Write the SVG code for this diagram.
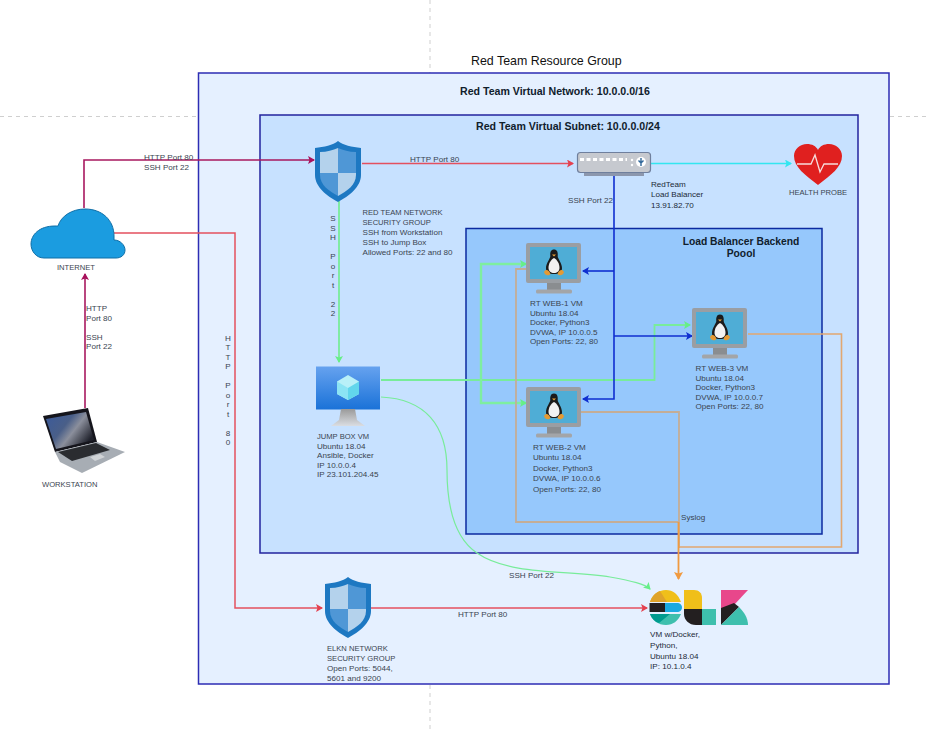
<svg xmlns="http://www.w3.org/2000/svg" width="928" height="729" viewBox="0 0 928 729">
<style>
text{font-family:"Liberation Sans",Arial,sans-serif;font-size:8.1px;fill:#3a4450}
.u{font-size:7.6px}
.t{font-size:12.4px;fill:#111}
.b{font-size:10.6px;font-weight:bold;fill:#10202c}
.b2{font-size:10.3px}
.d{fill:#1c2a38}
.c{fill:none;stroke-linejoin:miter}
.pk{stroke:#a8185f;stroke-width:1.6}
.rd{stroke:#e4505f;stroke-width:1.5}
.gr{stroke:#78ec9a;stroke-width:1.8}
.gt{stroke:#7eeea0;stroke-width:2.4}
.bl{stroke:#0f2fd0;stroke-width:1.6}
.or{stroke:#c4ad96;stroke-width:1.8}
.oo{stroke:#e2a770;stroke-width:1.6}
.grid{stroke:#cfcfcf;stroke-dasharray:4 4;fill:none}
</style>
<defs>
<marker id="mp" markerWidth="8" markerHeight="8" refX="6" refY="4" orient="auto" markerUnits="userSpaceOnUse"><path d="M0 0L7 4L0 8L1.500 4Z" fill="#a8115c"/></marker>
<marker id="mr" markerWidth="8" markerHeight="8" refX="6" refY="4" orient="auto" markerUnits="userSpaceOnUse"><path d="M0 0L7 4L0 8L1.500 4Z" fill="#e4404f"/></marker>
<marker id="mg" markerWidth="8" markerHeight="8" refX="6" refY="4" orient="auto" markerUnits="userSpaceOnUse"><path d="M0 0L7 4L0 8L1.500 4Z" fill="#66ee88"/></marker>
<marker id="mc" markerWidth="8" markerHeight="8" refX="6" refY="4" orient="auto" markerUnits="userSpaceOnUse"><path d="M0 0L7 4L0 8L1.500 4Z" fill="#33e6f0"/></marker>
<marker id="mb" markerWidth="8" markerHeight="8" refX="6" refY="4" orient="auto" markerUnits="userSpaceOnUse"><path d="M0 0L7 4L0 8L1.500 4Z" fill="#0f2fd0"/></marker>
<marker id="mo" markerWidth="9" markerHeight="9" refX="7" refY="4.500" orient="auto" markerUnits="userSpaceOnUse"><path d="M0 0L8 4.500L0 9L1.500 4.500Z" fill="#f09a40"/></marker>
<linearGradient id="jb" x1="0" y1="0" x2="0" y2="1"><stop offset="0" stop-color="#66a2ef"/><stop offset="1" stop-color="#1a72d8"/></linearGradient>
<linearGradient id="js" x1="0" y1="0" x2="0" y2="1"><stop offset="0" stop-color="#9a9a9a"/><stop offset="1" stop-color="#dadde2"/></linearGradient>
<linearGradient id="ls" x1="0" y1="0" x2="1" y2="0.600"><stop offset="0" stop-color="#3a5a9c"/><stop offset="0.450" stop-color="#4a5f88"/><stop offset="0.650" stop-color="#8b8f9c"/><stop offset="1" stop-color="#20222c"/></linearGradient>
<symbol id="shield" viewBox="0 0 46 61" overflow="visible">
<path d="M23 0C28 4 37 6 46 7V34C46 46 34 55 23 61C12 55 0 46 0 34V7C9 6 18 4 23 0Z" fill="#1d78c2"/>
<path d="M23 7V32H5V11C12 11 18 9 23 7Z" fill="#b4d2ec"/>
<path d="M23 7C28 9 34 11 41 11V32H23Z" fill="#4f97d6"/>
<path d="M5 32H23V55C14 50 5 44 5 34Z" fill="#4f97d6"/>
<path d="M23 32H41V34C41 44 32 50 23 55Z" fill="#b4d2ec"/>
</symbol>
<symbol id="linux" viewBox="0 0 55 51" overflow="visible">
<rect x="0" y="0" width="55" height="40" rx="2" fill="#9a9ea3"/>
<rect x="4" y="4" width="47" height="32" fill="#4fadd6"/>
<rect x="21" y="40" width="14" height="7" fill="#8a8d90"/>
<rect x="10" y="46.500" width="36" height="4" rx="1.500" fill="#a3a5a8"/>
<path d="M28 6.500C24.500 6.500 24 10 24.300 13C24.500 15 20 20 20 25C20 29 23 31 28 31C33 31 36 29 36 25C36 20 31.500 15 31.700 13C32 10 31.500 6.500 28 6.500Z" fill="#1b1b1b"/>
<path d="M28 15C24.500 17 22.500 21 22.500 25C22.500 28 25 30 28 30C31 30 33.500 28 33.500 25C33.500 21 31.500 17 28 15Z" fill="#f2f2f2"/>
<path d="M26 11.500L30 11.500L28 13.500Z" fill="#eda33a"/>
<path d="M18 29C20 25.500 23 27 24.500 31C23 32.800 19 33 18 29ZM38 29C36 25.500 33 27 31.500 31C33 32.800 37 33 38 29Z" fill="#e59a33"/>
</symbol>
</defs>

<path class="grid" d="M0 116.500H198M890 116.500H928M430 0V73M430 685V729"/>

<g id="resource-group">
<rect x="198.500" y="73" width="690.500" height="611" fill="#e5f0ff" stroke="#2d2db4" stroke-width="1.500"/>
<text class="t" x="471" y="65">Red Team Resource Group</text>
<text class="b" x="460" y="95">Red Team Virtual Network: 10.0.0.0/16</text>
</g>
<g id="subnet">
<rect x="260" y="115" width="598" height="438" fill="#c7e1ff" stroke="#23239e" stroke-width="1.500"/>
<text class="b" x="476" y="130">Red Team Virtual Subnet: 10.0.0.0/24</text>
</g>
<g id="backend-pool">
<rect x="466" y="228.500" width="356" height="305.500" fill="#96c8fc" stroke="#0c2aa0" stroke-width="1.500"/>
<text class="b b2" text-anchor="middle" x="741" y="245">Load Balancer Backend</text>
<text class="b b2" text-anchor="middle" x="741" y="257">Poool</text>
</g>

<g id="connectors">
<path class="c pk" d="M84 208V160H314" marker-end="url(#mp)"/>
<path class="c pk" d="M85 408V274" marker-end="url(#mp)"/>
<path class="c rd" d="M114 233H235V608H322" marker-end="url(#mr)"/>
<path class="c rd" d="M371 608H647" marker-end="url(#mr)"/>
<path class="c rd" d="M362 163.500H573" marker-end="url(#mr)"/>
<path class="c" stroke="#33e6f0" stroke-width="1.500" d="M651 163.500H791" marker-end="url(#mc)"/>
<path class="c gr" d="M339 201V362" marker-end="url(#mg)"/>
<path class="c gr" d="M381 380H654.500V325H690" marker-end="url(#mg)"/>
<path class="c gt" d="M481 380V264H526" marker-end="url(#mg)"/>
<path class="c gt" d="M481 380V403H526" marker-end="url(#mg)"/>
<path class="c" stroke="#78ec9a" stroke-width="1.200" d="M381 397C425 399 447 425 447 470C447 495 450 535 477 553C510 576 570 570 610 577C632 581 645 584 650 589" marker-end="url(#mg)"/>
<path class="c bl" d="M614 175V399H583" marker-end="url(#mb)"/>
<path class="c bl" d="M614 271H583" marker-end="url(#mb)"/>
<path class="c bl" d="M614 336H692" marker-end="url(#mb)"/>
<path class="c or" d="M527 269H516V522H679"/>
<path class="c or" d="M581 412H679V548"/>
<path class="c oo" d="M748 334H841.500V547H679"/>
<path class="c" stroke="#f09a40" stroke-width="1.800" d="M678.500 522V579" marker-end="url(#mo)"/>
</g>

<g id="conn-labels">
<text x="144" y="160">HTTP Port 80</text>
<text x="144" y="170">SSH Port 22</text>
<text x="86" y="311">HTTP</text>
<text x="86" y="321">Port 80</text>
<text x="86" y="340">SSH</text>
<text x="86" y="349">Port 22</text>
<text x="410" y="162">HTTP Port 80</text>
<text x="568" y="203">SSH Port 22</text>
<text x="681" y="520">Syslog</text>
<text x="509" y="578">SSH Port 22</text>
<text x="458" y="617">HTTP Port 80</text>
<text text-anchor="middle"><tspan x="333" y="221">S</tspan><tspan x="333" y="231">S</tspan><tspan x="333" y="240">H</tspan><tspan x="333" y="259">P</tspan><tspan x="333" y="269">o</tspan><tspan x="333" y="278">r</tspan><tspan x="333" y="288">t</tspan><tspan x="333" y="307">2</tspan><tspan x="333" y="316">2</tspan></text>
<text text-anchor="middle"><tspan x="228" y="341">H</tspan><tspan x="228" y="350">T</tspan><tspan x="228" y="360">T</tspan><tspan x="228" y="369">P</tspan><tspan x="228" y="388">P</tspan><tspan x="228" y="398">o</tspan><tspan x="228" y="407">r</tspan><tspan x="228" y="417">t</tspan><tspan x="228" y="436">8</tspan><tspan x="228" y="445">0</tspan></text>
</g>

<g id="internet">
<path d="M44 258C36 258 31 251 31 244C31 235 39 226 55 226C58 226 58 226 58 226C61 216 72 209 85 209C102 209 114 220 114 236V240C120 240 125 245 125 250C125 255 121 258 116 258Z" fill="#1b9ce0" stroke="#0f6ea6" stroke-width="1"/>
<text class="u" x="57" y="270">INTERNET</text>
</g>

<g id="workstation">
<path d="M43 416L88 408L97 442L55 452Z" fill="#15151c"/>
<path d="M46 419L86 412L94 440L56 449Z" fill="url(#ls)"/>
<path d="M55 452L97 442L125 452L82 473L60 462Z" fill="#a7adb4"/>
<path d="M58 452L96 443L110 450L72 461Z" fill="#2a2c30"/>
<path d="M90 457L100 454L105 457L95 461Z" fill="#d0d3d6"/>
<text class="u" x="42" y="487">WORKSTATION</text>
</g>

<g id="nsg">
<use href="#shield" x="315" y="141" width="46" height="61"/>
<text class="u" x="362.500" y="215">RED TEAM NETWORK</text>
<text class="u" x="362.500" y="225">SECURITY GROUP</text>
<text x="362.500" y="235">SSH from Workstation</text>
<text x="362.500" y="245">SSH to Jump Box</text>
<text x="362.500" y="255">Allowed Ports: 22 and 80</text>
</g>

<g id="load-balancer">
<rect x="584" y="172" width="60" height="4" fill="#8c97ad"/>
<rect x="577.500" y="152.500" width="73" height="20" rx="3" fill="#c6c9cf" stroke="#6f7f9d" stroke-width="1.200"/>
<path d="M580 159.500H627" stroke="#fff" stroke-width="3" stroke-dasharray="4 2.500" fill="none"/>
<g fill="#fff"><circle cx="632" cy="165" r="1.200"/><circle cx="632" cy="160" r="1.200"/><circle cx="641" cy="162" r="5"/></g>
<path d="M641 158V166M638.500 160.500L641 163L643.500 160.500" stroke="#31689a" stroke-width="1.400" fill="none"/>
<text class="d" x="651" y="187">RedTeam</text>
<text class="d" x="651" y="197">Load Balancer</text>
<text class="d" x="651" y="208">13.91.82.70</text>
</g>

<g id="health-probe">
<path d="M818 185C805 175 794 167 794 156C794 149 800 144 807 144C812 144 816 146 818 150C820 146 824 144 829 144C836 144 842 149 842 156C842 167 831 175 818 185Z" fill="#e0201f"/>
<path d="M797 164H811L815 155L820 172L824 164H838" fill="none" stroke="#f6dcdc" stroke-width="1.300"/>
<text class="u" x="789" y="195">HEALTH PROBE</text>
</g>

<g id="web-1">
<use href="#linux" x="526" y="243" width="55" height="51"/>
<text x="530" y="306">RT WEB-1 VM</text>
<text x="530" y="316">Ubuntu 18.04</text>
<text x="530" y="325">Docker, Python3</text>
<text x="530" y="335">DVWA, IP 10.0.0.5</text>
<text x="530" y="344">Open Ports: 22, 80</text>
</g>

<g id="web-3">
<use href="#linux" x="692" y="308" width="55" height="51"/>
<text x="695.500" y="371">RT WEB-3 VM</text>
<text x="695.500" y="381">Ubuntu 18.04</text>
<text x="695.500" y="390">Docker, Python3</text>
<text x="695.500" y="400">DVWA, IP 10.0.0.7</text>
<text x="695.500" y="409">Open Ports: 22, 80</text>
</g>

<g id="web-2">
<use href="#linux" x="526" y="387" width="55" height="51"/>
<text x="533" y="450">RT WEB-2 VM</text>
<text x="533" y="460">Ubuntu 18.04</text>
<text x="533" y="471">Docker, Python3</text>
<text x="533" y="481">DVWA, IP 10.0.0.6</text>
<text x="533" y="492">Open Ports: 22, 80</text>
</g>

<g id="jump-box">
<rect x="316" y="366.500" width="64" height="43" fill="url(#jb)"/>
<path d="M341 409H355L357 420L365 426H331L339 420Z" fill="url(#js)"/>
<path d="M348 375L359 381.500V394L348 400L337 394V381.500Z" fill="#b9f0f8"/>
<path d="M348 388L359 381.500V394L348 400Z" fill="#62d6ec"/>
<path d="M348 388L337 381.500V394L348 400Z" fill="#8ce4f4"/>
<text class="u" x="317" y="439">JUMP BOX VM</text>
<text x="317" y="449">Ubuntu 18.04</text>
<text x="317" y="458">Ansible, Docker</text>
<text x="317" y="468">IP 10.0.0.4</text>
<text x="317" y="477">IP 23.101.204.45</text>
</g>

<g id="elkn-nsg">
<use href="#shield" x="325" y="577" width="46" height="61"/>
<text class="u" x="327" y="651">ELKN NETWORK</text>
<text class="u" x="327" y="661">SECURITY GROUP</text>
<text x="327" y="671">Open Ports: 5044,</text>
<text x="327" y="681">5601 and 9200</text>
</g>

<g id="elk">
<path d="M650 602C652 595 658 590 666 590C673 590 678 594 681 602Z" fill="#f0bf1a"/>
<path d="M650 602C652 596 655 593 660 591L667 602Z" fill="#dfa32a"/>
<path d="M649.500 603H665V612H649.500Z" fill="#231f20"/>
<path d="M665 603H677C680 603 682 605 682 607.500C682 610 680 612 677 612H665Z" fill="#1ba9e0"/>
<path d="M650 614C652 620 658 625 666 625C673 625 678 621 681 614Z" fill="#3ebfad"/>
<path d="M650 614C652 619 655 622 659 623L670 614Z" fill="#019b8f"/>
<path d="M684 590H694C699 590 702 593 702 598V609H684Z" fill="#f0bf1a"/>
<path d="M684 609H702V625H696C689 625 684 620 684 614Z" fill="#231f20"/>
<rect x="702" y="609" width="14" height="16" fill="#3ebfad"/>
<path d="M721 590H748L734 605L721 610Z" fill="#e8478b"/>
<path d="M721 608L734 603L739 607L721 625Z" fill="#231f20"/>
<path d="M721 625L739 607C744 612 748 618 748 625Z" fill="#3ebfad"/>
<text class="d" x="650" y="637">VM w/Docker,</text>
<text class="d" x="650" y="648">Python,</text>
<text class="d" x="650" y="659">Ubuntu 18.04</text>
<text class="d" x="650" y="669">IP: 10.1.0.4</text>
</g>
</svg>
